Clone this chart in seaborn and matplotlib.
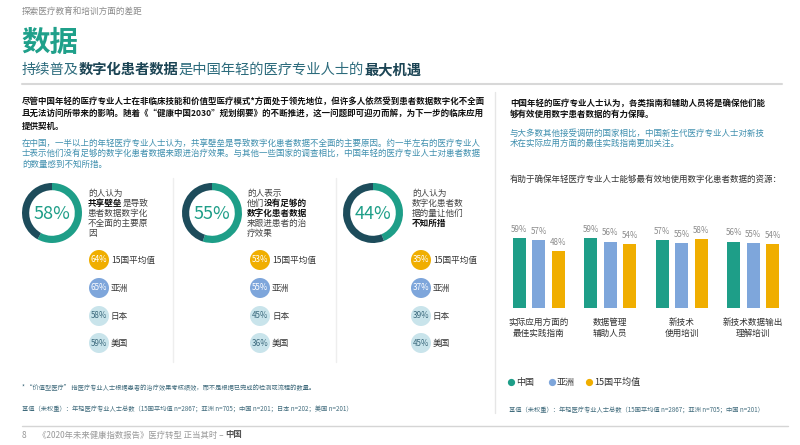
import matplotlib
matplotlib.use("Agg")
import matplotlib.pyplot as plt
from matplotlib.patches import Circle
import numpy as np
import pandas as pd
import seaborn as sns

# ---- data ----
donut_values = [58, 55, 44]
badge_labels = ["15国平均值", "亚洲", "日本", "美国"]
badge_values = [[64, 65, 58, 59], [53, 55, 45, 36], [35, 37, 39, 45]]

bar_categories = ["实际应用方面的\n最佳实践指南", "数据管理\n辅助人员",
                  "新技术\n使用培训", "新技术数据输出\n理解培训"]
bar_series = ["中国", "亚洲", "15国平均值"]
china_vals = [59, 59, 57, 56]
asia_vals = [57, 56, 55, 55]
avg_vals = [48, 54, 58, 54]

teal = "#1e9e88"
dark = "#1d4c5b"
blue = "#7ea6db"
gold = "#f0ae00"
light = "#c9e4eb"

sns.set_theme(style="white")
plt.rcParams["font.family"] = ["Noto Sans CJK SC", "DejaVu Sans"]

fig = plt.figure(figsize=(8, 4.45), dpi=100)
page = fig.add_axes([0, 0, 1, 1])
page.set_xlim(0, 800)
page.set_ylim(445, 0)
page.set_autoscale_on(False)
page.axis("off")
renderer = fig.canvas.get_renderer()


def runs(x, y, parts, size, color):
    # draw a line made of normal / bold pieces one after the other
    for txt, bold, c in parts:
        t = page.text(x, y, txt, fontsize=size, color=c or color, va="center", ha="left",
                      fontweight="bold" if bold else "normal")
        x += t.get_window_extent(renderer).width


# header
page.text(22, 11, "探索医疗教育和培训方面的差距", fontsize=6.2, color="#8a8a8a", va="center")
page.text(21, 43, "数据", fontsize=20.5, fontweight="bold", color="#1fa08a", va="center")
sub_c = "#2c6b7c"
sub_b = "#1b4454"
runs(22, 70, [("持续普及", False, None), ("数字化患者数据", True, sub_b),
              ("是中国年轻的医疗专业人士的", False, None), ("最大机遇", True, sub_b)], 10.3, sub_c)
page.plot([22, 782], [84, 84], color="#d8d8d8", lw=1.5)

# left paragraphs
bold_lines = ["尽管中国年轻的医疗专业人士在非临床技能和价值型医疗模式*方面处于领先地位，但许多人依然受到患者数据数字化不全面",
              "且无法访问所带来的影响。随着《“健康中国2030”规划纲要》的不断推进，这一问题即可迎刃而解，为下一步的临床应用",
              "提供契机。"]
for i, line in enumerate(bold_lines):
    page.text(22, 101 + i * 12.5, line, fontsize=6.1, fontweight="bold", color="#111111", va="center")
blue_lines = ["在中国，一半以上的年轻医疗专业人士认为，共享壁垒是导致数字化患者数据不全面的主要原因。约一半左右的医疗专业人",
              "士表示他们没有足够的数字化患者数据来跟进治疗效果。与其他一些国家的调查相比，中国年轻的医疗专业人士对患者数据",
              "的数量感到不知所措。"]
for i, line in enumerate(blue_lines):
    page.text(22, 143 + i * 10.7, line, fontsize=6.1, color="#3f8fae", va="center")

# right paragraphs
for i, line in enumerate(["中国年轻的医疗专业人士认为，各类指南和辅助人员将是确保他们能",
                          "够有效使用数字患者数据的有力保障。"]):
    page.text(510, 103 + i * 11, line, fontsize=6.1, fontweight="bold", color="#111111", va="center")
for i, line in enumerate(["与大多数其他接受调研的国家相比，中国新生代医疗专业人士对新技",
                          "术在实际应用方面的最佳实践指南更加关注。"]):
    page.text(510, 133 + i * 10.5, line, fontsize=6.1, color="#3f8fae", va="center")
page.text(510, 179, "有助于确保年轻医疗专业人士能够最有效地使用数字化患者数据的资源：",
          fontsize=6.1, color="#333333", va="center")

# dividers
page.plot([495, 495], [92, 413], color="#e6e6e6", lw=1)
for x in [173, 336]:
    page.plot([x, x], [178, 362], color="#eeeeee", lw=1)

# donuts
donut_x = [52, 212, 373]
desc_x = [88, 247, 412]
badge_x = [99, 260, 421]
badge_y = [260, 288, 316, 343]
descs = [
    [[("的人认为", False)], [("共享壁垒", True), ("是导致", False)], [("患者数据数字化", False)],
     [("不全面的主要原", False)], [("因", False)]],
    [[("的人表示", False)], [("他们", False), ("没有足够的", True)], [("数字化患者数据", True)],
     [("来跟进患者的治", False)], [("疗效果", False)]],
    [[("的人认为", False)], [("数字化患者数", False)], [("据的量让他们", False)], [("不知所措", True)]],
]
for i, v in enumerate(donut_values):
    cx, cy = donut_x[i], 213
    dax = fig.add_axes([(cx - 30) / 800, 1 - (cy + 30) / 445, 60 / 800, 60 / 445])
    dax.pie([v, 100 - v], colors=[teal, dark], startangle=90, counterclock=False,
            wedgeprops=dict(width=0.24, linewidth=0))
    dax.set_xlim(-1, 1)
    dax.set_ylim(-1, 1)
    dax.text(0, -0.02, f"{v}%", ha="center", va="center", fontsize=13, color=teal, fontweight="light")

    for j, line in enumerate(descs[i]):
        runs(desc_x[i], 193.5 + j * 10, [(t, b, "#111111" if b else None) for t, b in line], 6.2, "#444444")

    bx = badge_x[i]
    for k, (lab, val) in enumerate(zip(badge_labels, badge_values[i])):
        by = badge_y[k]
        fc = [gold, blue, light, light][k]
        page.add_patch(Circle((bx, by), 10, color=fc, lw=0))
        page.text(bx, by, f"{val}%", ha="center", va="center", fontsize=5.8,
                  color="white" if k < 2 else "#3d6b7e")
        page.text(bx + 12, by, lab, ha="left", va="center", fontsize=6.2, color="#333333")

# bar chart
df = pd.DataFrame({
    "类别": bar_categories * 3,
    "地区": np.repeat(bar_series, len(bar_categories)),
    "比例": china_vals + asia_vals + avg_vals,
})
bax = fig.add_axes([503 / 800, 1 - 308 / 445, 286 / 800, 83.1 / 445])
sns.barplot(data=df, x="类别", y="比例", hue="地区", palette=[teal, blue, gold],
            width=0.825, gap=0.335, saturation=1, linewidth=0, legend=False, ax=bax)
for c in bax.containers:
    bax.bar_label(c, fmt="%d%%", padding=3, fontsize=5.8, color="#8c8c8c")
bax.set_xlim(-0.5, 3.5)
bax.set_ylim(0, 70)
sns.despine(ax=bax, left=True, bottom=True)
bax.set_yticks([])
bax.set_xlabel("")
bax.set_ylabel("")
bax.patch.set_alpha(0)
bax.tick_params(axis="x", length=0, pad=7, labelsize=6.2, labelcolor="#333333")
for lab in bax.get_xticklabels():
    lab.set_linespacing(1.35)

# legend
for x, name, col in zip([511, 552, 589], bar_series, [teal, blue, gold]):
    page.plot(x, 382, "o", ms=4.2, color=col)
    page.text(x + 5, 382, name, ha="left", va="center", fontsize=6.5, color="#333333")

# footnotes
foot_c = "#406b7c"
page.text(22, 388, "* “价值型医疗” 指医疗专业人士根据患者的治疗效果考核绩效，而不是根据已完成的检测或流程的数量。",
          fontsize=4.5, color=foot_c, va="center")
page.text(22, 409, "基值（未权重）：年轻医疗专业人士总数（15国平均值 n=2867；亚洲 n=705；中国 n=201；日本 n=202；美国 n=201）",
          fontsize=4.5, color=foot_c, va="center")
page.text(509, 410, "基值（未权重）：年轻医疗专业人士总数（15国平均值 n=2867；亚洲 n=705；中国 n=201）",
          fontsize=4.5, color=foot_c, va="center")
page.plot([22, 788], [426, 426], color="#d5d5d5", lw=1)
page.text(22, 435, "8", fontsize=6, color="#999999", va="center")
runs(38, 435, [("《2020年未来健康指数报告》医疗转型 正当其时 – ", False, None),
               ("中国", True, "#555555")], 6, "#999999")

fig.savefig("out.png", dpi=100, facecolor="white")
